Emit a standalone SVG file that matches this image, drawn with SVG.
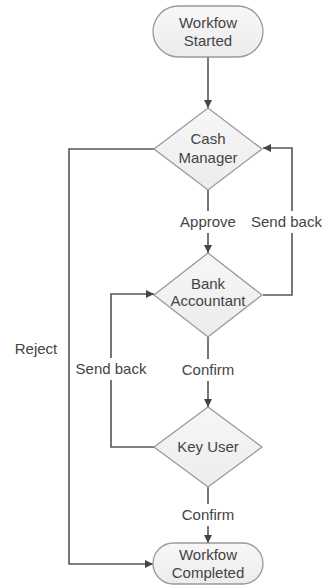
<svg xmlns="http://www.w3.org/2000/svg" width="323" height="585" viewBox="0 0 323 585">
<defs>
<linearGradient id="g" x1="0" y1="0" x2="0" y2="1">
<stop offset="0" stop-color="#f7f7f7"/>
<stop offset="1" stop-color="#ececec"/>
</linearGradient>
<marker id="arr" viewBox="0 0 10 10" refX="10" refY="5" markerWidth="9" markerHeight="8" markerUnits="userSpaceOnUse" orient="auto">
<path d="M0,0 L10,5 L0,10 Z" fill="#444"/>
</marker>
<style>
.shape{fill:url(#g);stroke:#999;stroke-width:1.3}
.t{font-family:"Liberation Sans",Arial,sans-serif;font-size:15px;fill:#444;text-anchor:middle}
.c{fill:none;stroke:#555;stroke-width:1.6}
</style>
</defs>
<rect width="323" height="585" fill="#fff"/>
<g id="connectors">
<line class="c" x1="208" y1="57" x2="208" y2="108" marker-end="url(#arr)"/>
<line class="c" x1="208" y1="190" x2="208" y2="211"/>
<line class="c" x1="208" y1="233" x2="208" y2="253" marker-end="url(#arr)"/>
<polyline class="c" points="263,295 292,295 292,233"/>
<polyline class="c" points="292,211 292,148 263,148" marker-end="url(#arr)"/>
<line class="c" x1="208" y1="337" x2="208" y2="359"/>
<line class="c" x1="208" y1="381" x2="208" y2="407" marker-end="url(#arr)"/>
<polyline class="c" points="154,447 111,447 111,380"/>
<polyline class="c" points="111,358 111,294 154,294" marker-end="url(#arr)"/>
<polyline class="c" points="154,149 69,149 69,564 153,564" marker-end="url(#arr)"/>
<line class="c" x1="208" y1="487" x2="208" y2="504"/>
<line class="c" x1="208" y1="526" x2="208" y2="543" marker-end="url(#arr)"/>
<text class="t" x="208" y="227">Approve</text>
<text class="t" x="251" y="227" style="text-anchor:start">Send back</text>
<text class="t" x="208" y="375">Confirm</text>
<text class="t" x="111" y="374">Send back</text>
<text class="t" x="36" y="354">Reject</text>
<text class="t" x="208" y="520">Confirm</text>
</g>
<g id="start">
<rect class="shape" x="153" y="6" width="110" height="51" rx="25.5"/>
<text class="t" x="208" y="28">Workfow</text>
<text class="t" x="208" y="46">Started</text>
</g>
<g id="cash">
<polygon class="shape" points="208,108 262,149 208,190 154,149"/>
<text class="t" x="208" y="144">Cash</text>
<text class="t" x="208" y="163">Manager</text>
</g>
<g id="bank">
<polygon class="shape" points="208,253 262,295 208,337 154,295"/>
<text class="t" x="208" y="289">Bank</text>
<text class="t" x="208" y="306">Accountant</text>
</g>
<g id="key">
<polygon class="shape" points="208,407 262,447 208,487 154,447"/>
<text class="t" x="208" y="452">Key User</text>
</g>
<g id="end">
<rect class="shape" x="153" y="543" width="110" height="41" rx="20.5"/>
<text class="t" x="208" y="560">Workfow</text>
<text class="t" x="208" y="578">Completed</text>
</g>
</svg>
